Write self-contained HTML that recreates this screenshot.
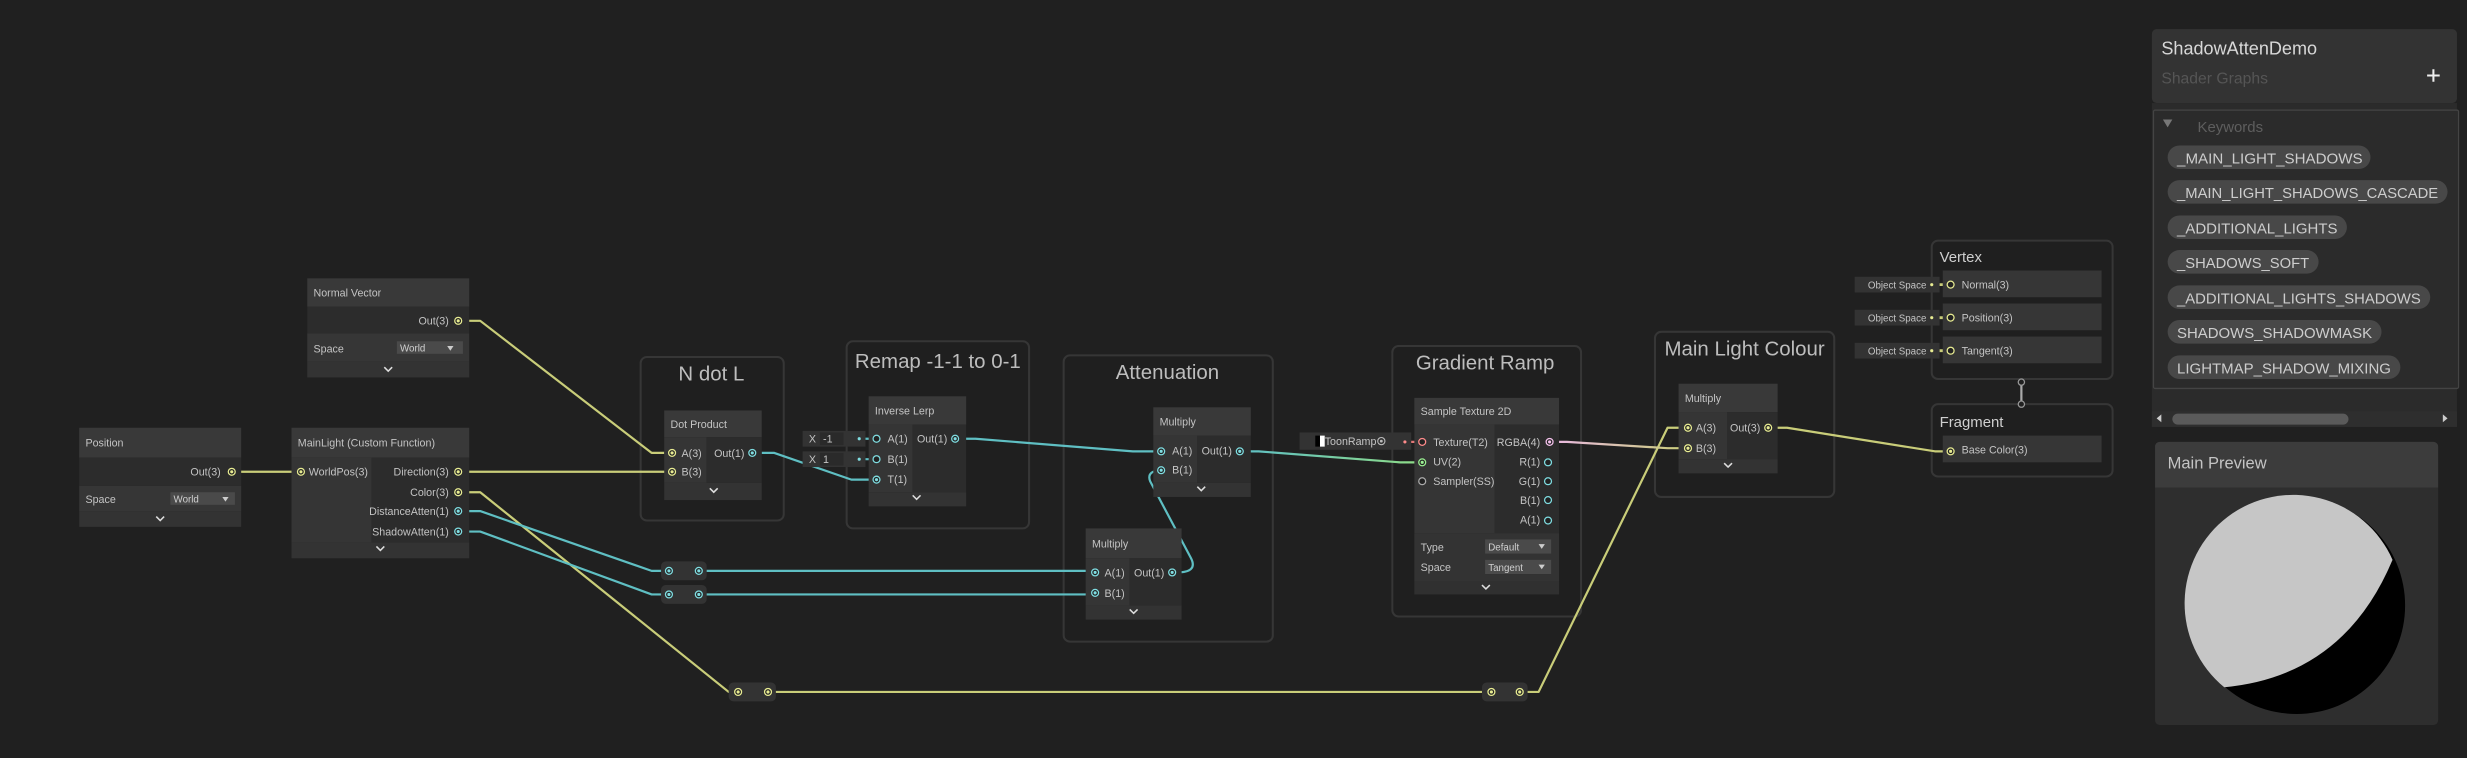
<!DOCTYPE html>
<html><head><meta charset="utf-8"><style>
html,body{margin:0;padding:0;background:#202020;overflow:hidden}
svg{display:block}
text{font-family:"Liberation Sans",sans-serif}
</style></head><body>
<svg width="2467" height="758" viewBox="0 0 1568 482" xmlns="http://www.w3.org/2000/svg">
<rect x="0" y="0" width="1568" height="482" fill="#202020"/>

<!-- GROUPS -->
<g fill="#1f1f1f" stroke="#363636" stroke-width="1.3">
<rect x="407" y="227" width="91" height="104" rx="4"/>
<rect x="538" y="217" width="116" height="119" rx="4"/>
<rect x="676" y="226" width="133" height="182" rx="4"/>
<rect x="885" y="220" width="120" height="172" rx="4"/>
<rect x="1052" y="211" width="114" height="105" rx="4"/>
<rect x="1228" y="153" width="115" height="88" rx="4"/>
<rect x="1228" y="257" width="115" height="46" rx="4"/>
</g>
<g fill="#bdbdbd" font-size="13" text-anchor="middle">
<text x="452" y="242">N dot L</text>
<text x="596" y="234">Remap -1-1 to 0-1</text>
<text x="742" y="241">Attenuation</text>
<text x="944" y="235">Gradient Ramp</text>
<text x="1109" y="226">Main Light Colour</text>
</g>
<g fill="#cfcfcf" font-size="9.5">
<text x="1233" y="166.5">Vertex</text>
<text x="1233" y="271.5">Fragment</text>
</g>

<!-- WIRES -->
<g fill="none" stroke-width="1.4" stroke-linejoin="round">
<path d="M297,204 H305 L414,288 H422" stroke="#c9cd79"/>
<path d="M150,300 H190" stroke="#c9cd79"/>
<path d="M297,300 H425" stroke="#c9cd79"/>
<path d="M297,313 H305 L463,440 H492 H943" stroke="#c9cd79"/>
<path d="M970,440 H978 L1060,272 H1070" stroke="#c9cd79"/>
<path d="M297,325 H305 L414,363 H696" stroke="#5fbfc3"/>
<path d="M297,338 H305 L414,378 H696" stroke="#5fbfc3"/>
<path d="M484,288 H492 L541,305 H557" stroke="#5fbfc3"/>
<path d="M546,279 H557 M546,292 H557" stroke="#5fbfc3"/>
<path d="M610,279 H620 L720,287 H738" stroke="#5fbfc3"/>
<path d="M748,364 C757,364 760,361 757,355 L731,306 C729,301 733,299 738,299" stroke="#5fbfc3"/>
<defs><linearGradient id="cg" x1="0" x2="1"><stop offset="0" stop-color="#5fbfc3"/><stop offset="1" stop-color="#8fdc86"/></linearGradient>
<linearGradient id="pg" x1="0" x2="1"><stop offset="0" stop-color="#e9b9e0"/><stop offset="1" stop-color="#c9cd79"/></linearGradient></defs>
<path d="M791,287 H800 L890,294 H904" stroke="url(#cg)"/>
<path d="M988,281 H996 L1060,285 H1072" stroke="url(#pg)"/>
<path d="M893,281 H904" stroke="#e27777"/>
<path d="M1127,272 H1136 L1230,287 H1240" stroke="#c9cd79"/>
<path d="M1229,181 H1240 M1229,202 H1240 M1229,223 H1240" stroke="#c9cd79" stroke-width="1.8"/>
<path d="M1285,245 V255" stroke="#aaa" stroke-width="1.4"/>
</g>
<circle cx="1285" cy="243" r="2" fill="#202020" stroke="#999" stroke-width="0.8"/>
<circle cx="1285" cy="257" r="2" fill="#202020" stroke="#999" stroke-width="0.8"/>

<!-- Normal Vector -->
<rect x="195" y="177" width="103" height="18" fill="#393939"/>
<rect x="195" y="195" width="103" height="17" fill="#2c2c2c"/>
<rect x="195" y="212" width="103" height="18" fill="#363636"/>
<rect x="195" y="230" width="103" height="10" fill="#333"/>
<rect x="252" y="217" width="42" height="8" fill="#4a4a4a"/>

<!-- Position -->
<rect x="50" y="272" width="103" height="19" fill="#393939"/>
<rect x="50" y="291" width="103" height="18" fill="#2c2c2c"/>
<rect x="50" y="309" width="103" height="16" fill="#363636"/>
<rect x="50" y="325" width="103" height="10" fill="#333"/>
<rect x="108" y="313" width="41" height="8" fill="#4a4a4a"/>

<!-- MainLight -->
<rect x="185" y="272" width="113" height="19" fill="#393939"/>
<rect x="185" y="291" width="51" height="54" fill="#353535"/>
<rect x="236" y="291" width="62" height="54" fill="#2c2c2c"/>
<rect x="185" y="345" width="113" height="10" fill="#333"/>

<!-- Dot Product -->
<rect x="422" y="261" width="62" height="17" fill="#393939"/>
<rect x="422" y="278" width="27" height="29" fill="#353535"/>
<rect x="449" y="278" width="35" height="29" fill="#2c2c2c"/>
<rect x="422" y="307" width="62" height="11" fill="#333"/>

<!-- Inverse Lerp -->
<rect x="552" y="252" width="62" height="18" fill="#393939"/>
<rect x="552" y="270" width="28" height="43" fill="#353535"/>
<rect x="580" y="270" width="34" height="43" fill="#2c2c2c"/>
<rect x="552" y="313" width="62" height="9" fill="#333"/>
<rect x="510" y="274" width="40" height="10" fill="#333"/>
<rect x="510" y="287" width="40" height="10" fill="#333"/>
<rect x="521" y="275" width="15" height="8" fill="#2a2a2a"/>
<rect x="521" y="288" width="15" height="8" fill="#2a2a2a"/>

<!-- Multiply top -->
<rect x="733" y="259" width="62" height="18" fill="#393939"/>
<rect x="733" y="277" width="28" height="30" fill="#353535"/>
<rect x="761" y="277" width="34" height="30" fill="#2c2c2c"/>
<rect x="733" y="307" width="62" height="9" fill="#333"/>
<!-- Multiply bottom -->
<rect x="690" y="336" width="61" height="19" fill="#393939"/>
<rect x="690" y="355" width="28" height="30" fill="#353535"/>
<rect x="718" y="355" width="33" height="30" fill="#2c2c2c"/>
<rect x="690" y="385" width="61" height="9" fill="#333"/>

<!-- Sample Texture -->
<rect x="899" y="253" width="92" height="17" fill="#393939"/>
<rect x="899" y="270" width="51" height="69" fill="#353535"/>
<rect x="950" y="270" width="41" height="69" fill="#2c2c2c"/>
<rect x="899" y="339" width="92" height="31" fill="#333"/>
<rect x="899" y="370" width="92" height="8" fill="#303030"/>
<rect x="944" y="343" width="42" height="9" fill="#4a4a4a"/>
<rect x="944" y="356" width="42" height="9" fill="#4a4a4a"/>
<rect x="826" y="275" width="71" height="11" fill="#333"/>
<rect x="836" y="277" width="3" height="7" fill="#000"/><rect x="839" y="277" width="3" height="7" fill="#fff"/>

<!-- Main Light Multiply -->
<rect x="1067" y="244" width="63" height="18" fill="#393939"/>
<rect x="1067" y="262" width="31" height="30" fill="#353535"/>
<rect x="1098" y="262" width="32" height="30" fill="#2c2c2c"/>
<rect x="1067" y="292" width="63" height="9" fill="#333"/>

<!-- Vertex / Fragment rows -->
<g fill="#363636">
<rect x="1235" y="172" width="101" height="17"/>
<rect x="1235" y="193" width="101" height="17"/>
<rect x="1235" y="214" width="101" height="17"/>
<rect x="1235" y="277" width="101" height="17"/>
</g>
<g fill="#333">
<rect x="1179" y="176" width="54" height="10"/>
<rect x="1179" y="197" width="54" height="10"/>
<rect x="1179" y="218" width="54" height="10"/>
</g>

<!-- Redirect nodes -->
<g fill="#333">
<rect x="420" y="357" width="29" height="12" rx="3"/>
<rect x="420" y="372" width="29" height="12" rx="3"/>
<rect x="463" y="434" width="30" height="12" rx="3"/>
<rect x="942" y="434" width="29" height="12" rx="3"/>
</g>

<!-- NODE TEXT -->
<g fill="#c4c4c4" font-size="6.8">
<text x="199" y="188.5">Normal Vector</text>
<text x="199" y="224">Space</text>
<text x="54" y="284">Position</text>
<text x="54" y="320">Space</text>
<text x="189" y="284">MainLight (Custom Function)</text>
<text x="196" y="302.5">WorldPos(3)</text>
<text x="426" y="272">Dot Product</text>
<text x="433" y="290.5">A(3)</text>
<text x="433" y="302.5">B(3)</text>
<text x="556" y="263.5">Inverse Lerp</text>
<text x="564" y="281.5">A(1)</text>
<text x="564" y="294.5">B(1)</text>
<text x="564" y="307">T(1)</text>
<text x="737" y="270.5">Multiply</text>
<text x="745" y="289">A(1)</text>
<text x="745" y="301">B(1)</text>
<text x="694" y="348">Multiply</text>
<text x="702" y="366.5">A(1)</text>
<text x="702" y="379.5">B(1)</text>
<text x="903" y="264">Sample Texture 2D</text>
<text x="911" y="283.5">Texture(T2)</text>
<text x="911" y="296">UV(2)</text>
<text x="911" y="308.5">Sampler(SS)</text>
<text x="903" y="350.5">Type</text>
<text x="903" y="363">Space</text>
<text x="1071" y="255.5">Multiply</text>
<text x="1078" y="274.5">A(3)</text>
<text x="1078" y="287.5">B(3)</text>
<text x="1247" y="183.5">Normal(3)</text>
<text x="1247" y="204.5">Position(3)</text>
<text x="1247" y="225.5">Tangent(3)</text>
<text x="1247" y="288.5">Base Color(3)</text>
<text x="514" y="281.5">X</text><text x="523" y="281.5">-1</text>
<text x="514" y="294.5">X</text><text x="523" y="294.5">1</text>
<text x="842" y="283">ToonRamp</text>
</g>
<g fill="#d0d0d0" font-size="6.2">
<text x="254" y="223.5">World</text>
<text x="110" y="319.5">World</text>
<text x="946" y="350">Default</text>
<text x="946" y="363">Tangent</text>
</g>
<g fill="#c4c4c4" font-size="6.2" text-anchor="middle">
<text x="1206" y="183.5">Object Space</text>
<text x="1206" y="204.5">Object Space</text>
<text x="1206" y="225.5">Object Space</text>
</g>
<g fill="#c4c4c4" font-size="6.8" text-anchor="end">
<text x="285" y="206.5">Out(3)</text>
<text x="140" y="302.5">Out(3)</text>
<text x="285" y="302.5">Direction(3)</text>
<text x="285" y="315.5">Color(3)</text>
<text x="285" y="327.5">DistanceAtten(1)</text>
<text x="285" y="340.5">ShadowAtten(1)</text>
<text x="473" y="290.5">Out(1)</text>
<text x="602" y="281.5">Out(1)</text>
<text x="783" y="289">Out(1)</text>
<text x="740" y="366.5">Out(1)</text>
<text x="979" y="283.5">RGBA(4)</text>
<text x="979" y="296">R(1)</text>
<text x="979" y="308.5">G(1)</text>
<text x="979" y="320.5">B(1)</text>
<text x="979" y="333">A(1)</text>
<text x="1119" y="274.5">Out(3)</text>
</g>
<g fill="#ccc">
<path d="M284,220 l4,0 l-2,3z"/><path d="M141,316 l4,0 l-2,3z"/>
<path d="M978,346 l4,0 l-2,3z"/><path d="M978,359 l4,0 l-2,3z"/>
</g>
<g fill="none" stroke="#ddd" stroke-width="1">
<path d="M244,233.5 l2.5,2.5 l2.5,-2.5"/>
<path d="M99,328.5 l2.5,2.5 l2.5,-2.5"/>
<path d="M239,347.5 l2.5,2.5 l2.5,-2.5"/>
<path d="M451,310.5 l2.5,2.5 l2.5,-2.5"/>
<path d="M580,315 l2.5,2.5 l2.5,-2.5"/>
<path d="M761,309.5 l2.5,2.5 l2.5,-2.5"/>
<path d="M718,387.5 l2.5,2.5 l2.5,-2.5"/>
<path d="M942,372 l2.5,2.5 l2.5,-2.5"/>
<path d="M1096,294.5 l2.5,2.5 l2.5,-2.5"/>
</g>

<!-- PORTS -->
<g stroke-width="0.8" fill="#222">
<g stroke="#e8ec92">
<circle cx="291" cy="204" r="2.2"/><circle cx="147" cy="300" r="2.2"/><circle cx="191" cy="300" r="2.2"/>
<circle cx="291" cy="300" r="2.2"/><circle cx="291" cy="313" r="2.2"/>
<circle cx="427" cy="288" r="2.2"/><circle cx="427" cy="300" r="2.2"/>
<circle cx="469" cy="440" r="2.2"/><circle cx="488" cy="440" r="2.2"/>
<circle cx="948" cy="440" r="2.2"/><circle cx="966" cy="440" r="2.2"/>
<circle cx="1073" cy="272" r="2.2"/><circle cx="1073" cy="285" r="2.2"/><circle cx="1124" cy="272" r="2.2"/>
<circle cx="1240" cy="181" r="2.2"/><circle cx="1240" cy="202" r="2.2"/><circle cx="1240" cy="223" r="2.2"/>
<circle cx="1240" cy="287" r="2.2"/>
</g>
<g stroke="#7fdde1">
<circle cx="291" cy="325" r="2.2"/><circle cx="291" cy="338" r="2.2"/>
<circle cx="478" cy="288" r="2.2"/>
<circle cx="425" cy="363" r="2.2"/><circle cx="444" cy="363" r="2.2"/>
<circle cx="425" cy="378" r="2.2"/><circle cx="444" cy="378" r="2.2"/>
<circle cx="557" cy="279" r="2.2"/><circle cx="557" cy="292" r="2.2"/><circle cx="557" cy="305" r="2.2"/>
<circle cx="607" cy="279" r="2.2"/>
<circle cx="738" cy="287" r="2.2"/><circle cx="738" cy="299" r="2.2"/><circle cx="788" cy="287" r="2.2"/>
<circle cx="696" cy="364" r="2.2"/><circle cx="696" cy="377" r="2.2"/><circle cx="745" cy="364" r="2.2"/>
<circle cx="984" cy="294" r="2.2"/><circle cx="984" cy="306" r="2.2"/><circle cx="984" cy="318" r="2.2"/><circle cx="984" cy="331" r="2.2"/>
</g>
<circle cx="904" cy="281" r="2.2" stroke="#ff8b8b"/>
<circle cx="904" cy="294" r="2.2" stroke="#9aef92"/>
<circle cx="904" cy="306" r="2.2" stroke="#aaa"/>
<circle cx="985" cy="281" r="2.2" stroke="#f6c3ee"/>
</g>
<g fill="#e8ec92">
<circle cx="291" cy="204" r="1"/><circle cx="147" cy="300" r="1"/><circle cx="191" cy="300" r="1"/>
<circle cx="291" cy="300" r="1"/><circle cx="291" cy="313" r="1"/>
<circle cx="427" cy="288" r="1"/><circle cx="427" cy="300" r="1"/>
<circle cx="469" cy="440" r="1"/><circle cx="488" cy="440" r="1"/>
<circle cx="948" cy="440" r="1"/><circle cx="966" cy="440" r="1"/>
<circle cx="1073" cy="272" r="1"/><circle cx="1073" cy="285" r="1"/><circle cx="1124" cy="272" r="1"/>
<circle cx="1240" cy="287" r="1"/>
<circle cx="1228" cy="181" r="1"/><circle cx="1228" cy="202" r="1"/><circle cx="1228" cy="223" r="1"/>
</g>
<g fill="#7fdde1">
<circle cx="291" cy="325" r="1"/><circle cx="291" cy="338" r="1"/><circle cx="478" cy="288" r="1"/>
<circle cx="425" cy="363" r="1"/><circle cx="444" cy="363" r="1"/><circle cx="425" cy="378" r="1"/><circle cx="444" cy="378" r="1"/>
<circle cx="557" cy="305" r="1"/><circle cx="607" cy="279" r="1"/>
<circle cx="738" cy="287" r="1"/><circle cx="738" cy="299" r="1"/><circle cx="788" cy="287" r="1"/>
<circle cx="696" cy="364" r="1"/><circle cx="696" cy="377" r="1"/><circle cx="745" cy="364" r="1"/>
<circle cx="546" cy="279" r="1"/><circle cx="546" cy="292" r="1"/>
</g>
<circle cx="904" cy="294" r="1" fill="#9aef92"/>
<circle cx="985" cy="281" r="1" fill="#f6c3ee"/>
<circle cx="893" cy="281" r="1" fill="#ff8b8b"/>
<circle cx="878" cy="280.5" r="2.3" fill="none" stroke="#bbb" stroke-width="0.7"/><circle cx="878" cy="280.5" r="0.9" fill="#bbb"/>

<!-- RIGHT PANEL: blackboard -->
<rect x="1368" y="18.5" width="194" height="47" rx="3" fill="#333"/>
<rect x="1368" y="65.5" width="194" height="206" fill="#2b2b2b"/>
<rect x="1369" y="70" width="194" height="177" fill="#2b2b2b" stroke="#444" stroke-width="0.8" rx="1"/>
<text x="1374" y="34.5" fill="#d8d8d8" font-size="11.5">ShadowAttenDemo</text>
<text x="1374" y="53" fill="#555" font-size="10">Shader Graphs</text>
<path d="M1547,44 v8 M1543,48 h8" stroke="#eee" stroke-width="1.3"/>
<path d="M1375,76 h6 l-3,5z" fill="#777"/>
<text x="1397" y="84" fill="#5e5e5e" font-size="9.5">Keywords</text>
<g fill="#484848">
<rect x="1378" y="92.5" width="129" height="15" rx="7.5"/>
<rect x="1378" y="114.5" width="178" height="15" rx="7.5"/>
<rect x="1378" y="137" width="114" height="15" rx="7.5"/>
<rect x="1378" y="159" width="96" height="15" rx="7.5"/>
<rect x="1378" y="181.5" width="167" height="15" rx="7.5"/>
<rect x="1378" y="203.5" width="136" height="15" rx="7.5"/>
<rect x="1378" y="226" width="148" height="15" rx="7.5"/>
</g>
<g fill="#cdcdcd" font-size="9.3">
<text x="1384" y="104" textLength="118" lengthAdjust="spacingAndGlyphs">_MAIN_LIGHT_SHADOWS</text>
<text x="1384" y="126" textLength="166" lengthAdjust="spacingAndGlyphs">_MAIN_LIGHT_SHADOWS_CASCADE</text>
<text x="1384" y="148.5" textLength="102" lengthAdjust="spacingAndGlyphs">_ADDITIONAL_LIGHTS</text>
<text x="1384" y="170.5" textLength="84" lengthAdjust="spacingAndGlyphs">_SHADOWS_SOFT</text>
<text x="1384" y="193" textLength="155" lengthAdjust="spacingAndGlyphs">_ADDITIONAL_LIGHTS_SHADOWS</text>
<text x="1384" y="215" textLength="124" lengthAdjust="spacingAndGlyphs">SHADOWS_SHADOWMASK</text>
<text x="1384" y="237.5" textLength="136" lengthAdjust="spacingAndGlyphs">LIGHTMAP_SHADOW_MIXING</text>
</g>
<rect x="1368" y="261.5" width="194" height="10" fill="#2e2e2e"/>
<rect x="1381" y="263" width="112" height="7" rx="3.5" fill="#5a5a5a"/>
<path d="M1374,263.5 v5 l-3,-2.5z M1553,263.5 v5 l3,-2.5z" fill="#ccc"/>

<!-- Main Preview -->
<rect x="1370" y="281" width="180" height="180" rx="3" fill="#2e2e2e"/>
<path d="M1370,284 a3,3 0 0 1 3,-3 h174 a3,3 0 0 1 3,3 v26 h-180z" fill="#3c3c3c"/>
<text x="1378" y="298" fill="#c4c4c4" font-size="10.5">Main Preview</text>
<circle cx="1460" cy="385" r="69" fill="#000"/>
<path d="M1521,356 A69,69 0 1 0 1414,437 Q1490,430 1521,356 Z" fill="#c6c6c6"/>
</svg>
</body></html>
